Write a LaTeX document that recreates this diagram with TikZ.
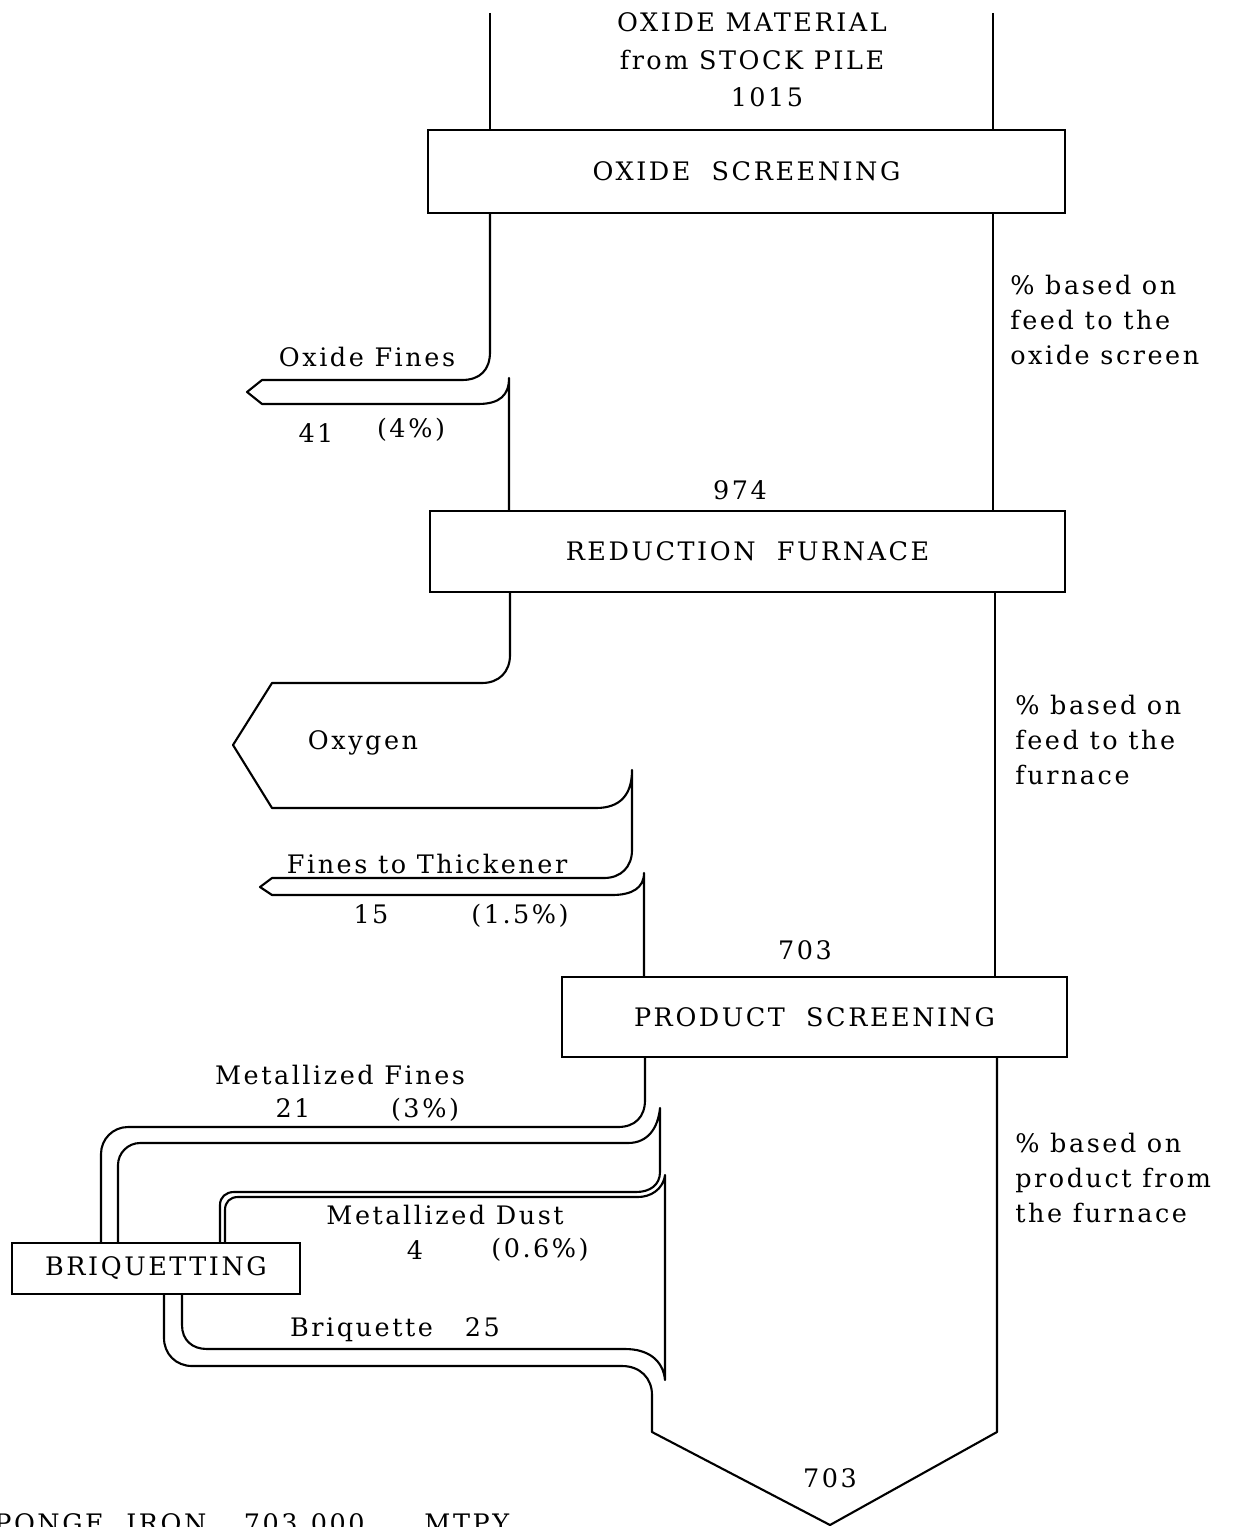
\documentclass[tikz,border=0pt]{standalone}
\usepackage{fontspec}
\setmainfont{DejaVu Serif}[LetterSpace=10]
\usetikzlibrary{positioning}

\begin{document}
\begin{tikzpicture}[
    x=0.02cm, y=-0.02cm,
    font=\fontsize{14.5}{19.8}\selectfont,
    stage/.style={draw, line width=1.1pt, inner sep=0pt, align=center},
    flow/.style={line width=1.2pt, line join=round},
    lbl/.style={inner sep=1pt, align=center},
    note/.style={inner sep=0pt, align=left, anchor=west}
  ]
  \useasboundingbox (0,0) rectangle (1232,1527);

  % process boxes
  \node[stage, minimum width=12.74cm, minimum height=1.66cm] (oxscr) at (746.5,171.5) {OXIDE\ \ SCREENING};
  \node[stage, minimum width=12.7cm, minimum height=1.62cm] (furnace) at (747.5,551.5) {REDUCTION\ \ FURNACE};
  \node[stage, minimum width=10.1cm, minimum height=1.6cm] (prodscr) at (814.5,1017) {PRODUCT\ \ SCREENING};
  \node[stage, minimum width=5.76cm, minimum height=1.02cm] (briq) at (156,1268.5) {BRIQUETTING};

  % main stream
  \draw[flow] (490,13) -- (490,130);
  \draw[flow] (993,13) -- (993,130);
  \draw[flow] (993,213) -- (993,511);
  \draw[flow] (995,592) -- (995,977);

  % oxide fines
  \draw[flow] (490,213) -- (490,352) .. controls (490,370) and (480,380) .. (462,380) -- (262,380) -- (247,392) -- (262,404)
    -- (478,404) .. controls (500,404) and (509,395) .. (509,378) -- (509,511);

  % oxygen and fines to thickener
  \draw[flow] (510,592) -- (510,655) .. controls (510,672) and (499,683) .. (482,683) -- (272,683) -- (233,745) -- (272,808)
    -- (596,808) .. controls (620,808) and (632,795) .. (632,770) -- (632,850) .. controls (632,867) and (621,878) .. (604,878)
    -- (272,878) -- (260,887) -- (272,895) -- (612,895) .. controls (632,895) and (644,888) .. (644,873) -- (644,977);

  % metallized fines
  \draw[flow] (645,1057) -- (645,1100) .. controls (645,1117) and (635,1127) .. (618,1127) -- (128,1127)
    .. controls (113,1127) and (101,1139) .. (101,1154) -- (101,1243);
  \draw[flow] (220,1243) -- (220,1205) .. controls (220,1197) and (226,1192) .. (234,1192) -- (636,1192)
    .. controls (650,1192) and (660,1185) .. (660,1172) -- (660,1108) .. controls (658,1128) and (648,1143) .. (628,1143)
    -- (140,1143) .. controls (128,1143) and (118,1153) .. (118,1165) -- (118,1243);

  % metallized dust and briquette
  \draw[flow] (182,1294) -- (182,1325) .. controls (182,1340) and (192,1349) .. (207,1349) -- (625,1349)
    .. controls (648,1349) and (663,1360) .. (665,1380) -- (665,1175) .. controls (663,1190) and (650,1197) .. (638,1197)
    -- (238,1197) .. controls (230,1197) and (225,1202) .. (225,1210) -- (225,1243);
  \draw[flow] (997,1057) -- (997,1432) -- (830,1525) -- (652,1432) -- (652,1395) .. controls (652,1378) and (640,1366) .. (622,1366)
    -- (192,1366) .. controls (176,1366) and (164,1354) .. (164,1338) -- (164,1294);

  % labels
  \node[lbl, align=center] (feed) at (752,60) {OXIDE MATERIAL\\[1.5pt]from STOCK PILE\\[1.5pt]\hspace*{0.6cm}1015};
  \node[lbl] (fines) at (367,357) {Oxide Fines};
  \node[lbl] (finesq) at (316,433) {41};
  \node[lbl] (finesp) at (411,430) {(4\%)};
  \node[lbl] (q974) at (740,490) {974};
  \node[lbl] (oxygen) at (363,743) {Oxygen};
  \node[lbl] (thick) at (427,864) {Fines to Thickener};
  \node[lbl] (thickq) at (371,914) {15};
  \node[lbl] (thickp) at (520,916) {(1.5\%)};
  \node[lbl] (q703a) at (805,950) {703};
  \node[lbl] (mfines) at (340,1075) {Metallized Fines};
  \node[lbl] (mfinesq) at (293,1108) {21};
  \node[lbl] (mfinesp) at (425,1110) {(3\%)};
  \node[lbl] (dust) at (445,1215) {Metallized Dust};
  \node[lbl] (dustq) at (415,1250) {4};
  \node[lbl] (dustp) at (540,1250) {(0.6\%)};
  \node[lbl] (briqq) at (395,1330) {Briquette\ \ \ 25};
  \node[lbl] (q703b) at (830,1478) {703};
  \node[note] (base1) at (1010,320) {\% based on\\feed to the\\oxide screen};
  \node[note] (base2) at (1015,740) {\% based on\\feed to the\\furnace};
  \node[note] (base3) at (1015,1178) {\% based on\\product from\\the furnace};
  \node[anchor=base west, inner sep=0pt] (sponge) at (-26,1532) {SPONGE\hspace{0.45cm}IRON\hspace{0.75cm}703,000\hspace{1.2cm}MTPY};
\end{tikzpicture}
\end{document}
